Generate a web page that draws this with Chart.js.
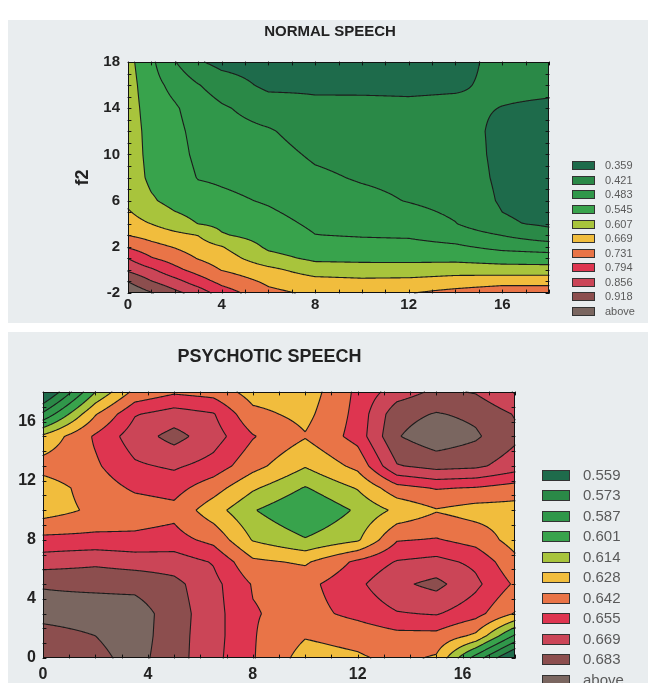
<!DOCTYPE html>
<html>
<head>
<meta charset="utf-8">
<script src="https://cdn.jsdelivr.net/npm/chart.js@4.4.1/dist/chart.umd.min.js"></script>
<style>
  html, body { margin: 0; padding: 0; background: #fff; }
  body { width: 648px; height: 683px; position: relative; overflow: hidden; }
  .panel { position: absolute; left: 8px; width: 640px; background: #e9edef; }
  #normalPanel { top: 20px; height: 303px; }
  #psychoticPanel { top: 332px; height: 351px; }
</style>
</head>
<body>
<div class="panel" id="normalPanel"><canvas id="normalChart"></canvas></div>
<div class="panel" id="psychoticPanel"><canvas id="psychoticChart"></canvas></div>
<script>
Chart.defaults.font.family = "'Liberation Sans', Arial, sans-serif";
Chart.defaults.color = '#222';

// Normal speech surface (rows = f2, columns = f1)
const normalF1 = [0, 1, 2, 3, 4, 6, 8, 10, 12, 14, 16, 18];
const normalF2 = [-2, -1, 0, 1, 2, 3, 4, 6, 8, 10, 12, 14, 16, 18];
const normalValues = [
  [0.970, 0.922, 0.873, 0.830, 0.765, 0.684, 0.658, 0.662, 0.666, 0.690, 0.710, 0.710],
  [0.917, 0.859, 0.816, 0.762, 0.712, 0.657, 0.629, 0.621, 0.624, 0.634, 0.646, 0.646],
  [0.846, 0.804, 0.749, 0.706, 0.667, 0.624, 0.576, 0.571, 0.571, 0.582, 0.574, 0.573],
  [0.793, 0.736, 0.703, 0.666, 0.639, 0.566, 0.533, 0.531, 0.530, 0.527, 0.516, 0.511],
  [0.725, 0.689, 0.665, 0.637, 0.610, 0.534, 0.509, 0.503, 0.502, 0.492, 0.467, 0.455],
  [0.668, 0.647, 0.625, 0.606, 0.551, 0.518, 0.484, 0.479, 0.476, 0.457, 0.420, 0.380],
  [0.629, 0.606, 0.572, 0.544, 0.530, 0.503, 0.473, 0.465, 0.455, 0.423, 0.366, 0.350],
  [0.595, 0.553, 0.522, 0.510, 0.496, 0.477, 0.451, 0.438, 0.418, 0.400, 0.352, 0.340],
  [0.585, 0.530, 0.515, 0.480, 0.474, 0.460, 0.432, 0.415, 0.405, 0.390, 0.348, 0.337],
  [0.580, 0.525, 0.505, 0.470, 0.459, 0.444, 0.412, 0.400, 0.392, 0.385, 0.346, 0.336],
  [0.578, 0.522, 0.498, 0.465, 0.444, 0.427, 0.392, 0.384, 0.380, 0.378, 0.348, 0.338],
  [0.575, 0.515, 0.490, 0.455, 0.429, 0.392, 0.371, 0.368, 0.366, 0.368, 0.358, 0.352],
  [0.572, 0.505, 0.465, 0.424, 0.392, 0.345, 0.350, 0.352, 0.352, 0.354, 0.368, 0.368],
  [0.565, 0.495, 0.424, 0.366, 0.340, 0.330, 0.330, 0.335, 0.340, 0.345, 0.372, 0.375]
];
const normalLevels = [0.359, 0.421, 0.483, 0.545, 0.607, 0.669, 0.731, 0.794, 0.856, 0.918];
const normalXTicks = [0, 4, 8, 12, 16];
const normalYTicks = [-2, 2, 6, 10, 14, 18];

// Psychotic speech surface
const psychoticF1 = [0, 2, 3.5, 5, 6.5, 8, 10, 12, 13.5, 15, 16.5, 18];
const psychoticF2 = [0, 1.5, 3, 5, 6.5, 8, 10, 11.5, 13, 15, 16.5, 18];
const psychoticValues = [
  [0.674, 0.679, 0.688, 0.675, 0.659, 0.643, 0.622, 0.626, 0.632, 0.626, 0.581, 0.540],
  [0.677, 0.683, 0.690, 0.675, 0.660, 0.643, 0.629, 0.633, 0.638, 0.638, 0.625, 0.585],
  [0.688, 0.690, 0.690, 0.676, 0.660, 0.643, 0.637, 0.646, 0.654, 0.656, 0.647, 0.627],
  [0.682, 0.680, 0.679, 0.673, 0.659, 0.641, 0.638, 0.652, 0.666, 0.673, 0.658, 0.640],
  [0.662, 0.666, 0.663, 0.662, 0.654, 0.631, 0.626, 0.645, 0.656, 0.659, 0.652, 0.632],
  [0.646, 0.646, 0.645, 0.647, 0.638, 0.613, 0.602, 0.612, 0.641, 0.643, 0.637, 0.622],
  [0.621, 0.631, 0.635, 0.638, 0.620, 0.602, 0.588, 0.603, 0.617, 0.627, 0.622, 0.622],
  [0.620, 0.635, 0.644, 0.647, 0.634, 0.616, 0.600, 0.615, 0.637, 0.643, 0.641, 0.636],
  [0.634, 0.640, 0.653, 0.657, 0.650, 0.633, 0.615, 0.632, 0.668, 0.674, 0.672, 0.662],
  [0.617, 0.644, 0.662, 0.674, 0.661, 0.643, 0.629, 0.647, 0.682, 0.692, 0.685, 0.672],
  [0.576, 0.627, 0.654, 0.661, 0.656, 0.632, 0.624, 0.646, 0.678, 0.684, 0.680, 0.668],
  [0.540, 0.601, 0.632, 0.640, 0.637, 0.622, 0.620, 0.645, 0.662, 0.672, 0.668, 0.654]
];
const psychoticLevels = [0.559, 0.573, 0.587, 0.601, 0.614, 0.628, 0.642, 0.655, 0.669, 0.683];
const psychoticXTicks = [0, 4, 8, 12, 16];
const psychoticYTicks = [0, 4, 8, 12, 16];

// one colour per band, lowest first, last one is "above"
const bandColors = ['#1e6b4b', '#2a8947', '#30974a', '#38a34c', '#a8c43c', '#f1bd3d',
                    '#e97447', '#de3550', '#cb4557', '#8c4e4e', '#7a6660'];

function hexToRgb(hex) {
  const n = parseInt(hex.slice(1), 16);
  return [(n >> 16) & 255, (n >> 8) & 255, n & 255];
}

// bilinear lookup on a rectilinear grid
function makeSampler(xs, ys, z) {
  function locate(arr, v) {
    if (v <= arr[0]) return [0, 0];
    for (let i = 0; i < arr.length - 1; i++) {
      if (v <= arr[i + 1]) return [i, (v - arr[i]) / (arr[i + 1] - arr[i])];
    }
    return [arr.length - 2, 1];
  }
  return function(x, y) {
    const [i, tx] = locate(xs, x);
    const [j, ty] = locate(ys, y);
    const top = z[j][i] * (1 - tx) + z[j][i + 1] * tx;
    const bot = z[j + 1][i] * (1 - tx) + z[j + 1][i + 1] * tx;
    return top * (1 - ty) + bot * ty;
  };
}

function contourPlugin(spec) {
  const sample = makeSampler(spec.xs, spec.ys, spec.z);
  const rgb = spec.colors.map(hexToRgb);
  const levels = spec.levels;
  const band = v => { let k = 0; while (k < levels.length && v > levels[k]) k++; return k; };

  return {
    id: 'contour_' + spec.id,
    beforeDatasetsDraw(chart) {
      const ctx = chart.ctx, a = chart.chartArea;
      const sx = chart.scales.x, sy = chart.scales.y;
      const left = Math.round(a.left), top = Math.round(a.top);
      const w = Math.round(a.right) - left, h = Math.round(a.bottom) - top;

      // filled bands, one pixel at a time
      const img = ctx.createImageData(w, h);
      for (let j = 0; j < h; j++) {
        const yv = sy.getValueForPixel(top + j + 0.5);
        for (let i = 0; i < w; i++) {
          const c = rgb[band(sample(sx.getValueForPixel(left + i + 0.5), yv))];
          const o = (j * w + i) * 4;
          img.data[o] = c[0]; img.data[o + 1] = c[1]; img.data[o + 2] = c[2]; img.data[o + 3] = 255;
        }
      }
      ctx.putImageData(img, left, top);

      // contour lines with marching squares on the pixel corners
      const cols = w + 1;
      const F = new Float64Array(cols * (h + 1));
      for (let j = 0; j <= h; j++) {
        const yv = sy.getValueForPixel(top + j);
        for (let i = 0; i <= w; i++) F[j * cols + i] = sample(sx.getValueForPixel(left + i), yv);
      }
      ctx.save();
      ctx.strokeStyle = '#1c1c1c';
      ctx.lineWidth = 1.1;
      ctx.lineCap = 'round';
      ctx.beginPath();
      const seg = (p, q) => { ctx.moveTo(left + p[0], top + p[1]); ctx.lineTo(left + q[0], top + q[1]); };
      levels.forEach(L => {
        for (let j = 0; j < h; j++) {
          for (let i = 0; i < w; i++) {
            const v0 = F[j * cols + i], v1 = F[j * cols + i + 1];
            const v2 = F[(j + 1) * cols + i + 1], v3 = F[(j + 1) * cols + i];
            const code = (v0 > L ? 8 : 0) | (v1 > L ? 4 : 0) | (v2 > L ? 2 : 0) | (v3 > L ? 1 : 0);
            if (code === 0 || code === 15) continue;
            const pts = [];
            if ((v0 > L) !== (v1 > L)) pts.push([i + (L - v0) / (v1 - v0), j]);
            if ((v1 > L) !== (v2 > L)) pts.push([i + 1, j + (L - v1) / (v2 - v1)]);
            if ((v3 > L) !== (v2 > L)) pts.push([i + (L - v3) / (v2 - v3), j + 1]);
            if ((v0 > L) !== (v3 > L)) pts.push([i, j + (L - v0) / (v3 - v0)]);
            if (pts.length === 2) {
              seg(pts[0], pts[1]);
            } else if (pts.length === 4) {
              const mid = (v0 + v1 + v2 + v3) / 4;
              if ((mid > L) === (v0 > L)) { seg(pts[0], pts[1]); seg(pts[2], pts[3]); }
              else { seg(pts[0], pts[3]); seg(pts[1], pts[2]); }
            }
          }
        }
      });
      ctx.stroke();

      // plot frame with small inward ticks every unit
      ctx.strokeStyle = '#111';
      ctx.lineWidth = 1;
      ctx.strokeRect(left + 0.5, top + 0.5, w - 1, h - 1);
      ctx.beginPath();
      for (let v = Math.ceil(sx.min); v <= sx.max; v++) {
        const px = Math.round(sx.getPixelForValue(v)) + 0.5;
        ctx.moveTo(px, top); ctx.lineTo(px, top + 3);
        ctx.moveTo(px, top + h); ctx.lineTo(px, top + h - 3);
      }
      for (let v = Math.ceil(sy.min); v <= sy.max; v++) {
        const py = Math.round(sy.getPixelForValue(v)) + 0.5;
        ctx.moveTo(left, py); ctx.lineTo(left + 3, py);
        ctx.moveTo(left + w, py); ctx.lineTo(left + w - 3, py);
      }
      ctx.stroke();
      ctx.restore();
    },
    afterDraw(chart) {
      const ctx = chart.ctx, a = chart.chartArea, lg = spec.legend;
      const labels = levels.map(v => v.toFixed(3)).concat(['above']);
      ctx.save();
      ctx.textBaseline = 'middle';
      ctx.textAlign = 'left';
      ctx.font = lg.font;
      labels.forEach((label, k) => {
        const bx = Math.round(a.right + lg.dx), by = Math.round(a.top + lg.dy + k * lg.step);
        ctx.fillStyle = spec.colors[k];
        ctx.fillRect(bx, by, lg.w, lg.h);
        ctx.strokeStyle = '#333';
        ctx.lineWidth = 1;
        ctx.strokeRect(bx + 0.5, by + 0.5, lg.w - 1, lg.h - 1);
        ctx.fillStyle = '#5a5a5a';
        ctx.fillText(label, bx + lg.textDx, by + lg.h / 2 + 0.5);
      });
      ctx.font = spec.titleFont;
      ctx.textAlign = 'center';
      ctx.fillStyle = '#222';
      ctx.fillText(spec.title, spec.titleX, spec.titleY);
      ctx.restore();
    }
  };
}

function buildChart(canvasId, spec) {
  const points = [];
  spec.ys.forEach((y, j) => spec.xs.forEach((x, i) => points.push({x: x, y: y, v: spec.z[j][i]})));
  return new Chart(document.getElementById(canvasId), {
    type: 'scatter',
    data: { datasets: [{ data: points, pointRadius: 0, pointHoverRadius: 0 }] },
    options: {
      responsive: true,
      maintainAspectRatio: false,
      animation: false,
      events: [],
      layout: { padding: spec.padding },
      plugins: { legend: { display: false }, tooltip: { enabled: false } },
      scales: {
        x: {
          type: 'linear',
          min: spec.xs[0],
          max: spec.xs[spec.xs.length - 1],
          grid: { display: false, drawTicks: false },
          border: { display: false },
          ticks: { font: spec.tickFont, padding: spec.xTickPad, maxRotation: 0, color: '#222' },
          afterBuildTicks: s => { s.ticks = spec.xTicks.map(v => ({ value: v })); },
          afterFit: s => { s.height = spec.xHeight; }
        },
        y: {
          type: 'linear',
          min: spec.ys[0],
          max: spec.ys[spec.ys.length - 1],
          grid: { display: false, drawTicks: false },
          border: { display: false },
          ticks: { font: spec.tickFont, padding: spec.yTickPad, color: '#222' },
          title: spec.yTitle,
          afterBuildTicks: s => { s.ticks = spec.yTicks.map(v => ({ value: v })); },
          afterFit: s => { s.width = spec.yWidth; }
        }
      }
    },
    plugins: [contourPlugin(spec)]
  });
}

buildChart('normalChart', {
  id: 'normal',
  xs: normalF1, ys: normalF2, z: normalValues,
  levels: normalLevels, colors: bandColors,
  xTicks: normalXTicks, yTicks: normalYTicks,
  padding: { left: 0, top: 42, right: 99, bottom: 0 },
  yWidth: 120, xHeight: 30, xTickPad: 3, yTickPad: 8,
  tickFont: { size: 15, weight: 'bold' },
  yTitle: { display: true, text: 'f2', font: { size: 18, weight: 'bold' }, color: '#222', padding: { top: 64, bottom: 0 } },
  title: 'NORMAL SPEECH', titleFont: "bold 15px 'Liberation Sans', Arial, sans-serif", titleX: 322, titleY: 12,
  legend: { dx: 23, dy: 99.3, step: 14.57, w: 23, h: 9, textDx: 33, font: "11px 'Liberation Sans', Arial, sans-serif" }
});

buildChart('psychoticChart', {
  id: 'psychotic',
  xs: psychoticF1, ys: psychoticF2, z: psychoticValues,
  levels: psychoticLevels, colors: bandColors,
  xTicks: psychoticXTicks, yTicks: psychoticYTicks,
  padding: { left: 0, top: 60, right: 133, bottom: 0 },
  yWidth: 35, xHeight: 25, xTickPad: 7, yTickPad: 7,
  tickFont: { size: 16, weight: 'bold' },
  yTitle: { display: false },
  title: 'PSYCHOTIC SPEECH', titleFont: "bold 18px 'Liberation Sans', Arial, sans-serif", titleX: 261.5, titleY: 25,
  legend: { dx: 27, dy: 77.7, step: 20.5, w: 28, h: 11, textDx: 41, font: "15px 'Liberation Sans', Arial, sans-serif" }
});
</script>
</body>
</html>
